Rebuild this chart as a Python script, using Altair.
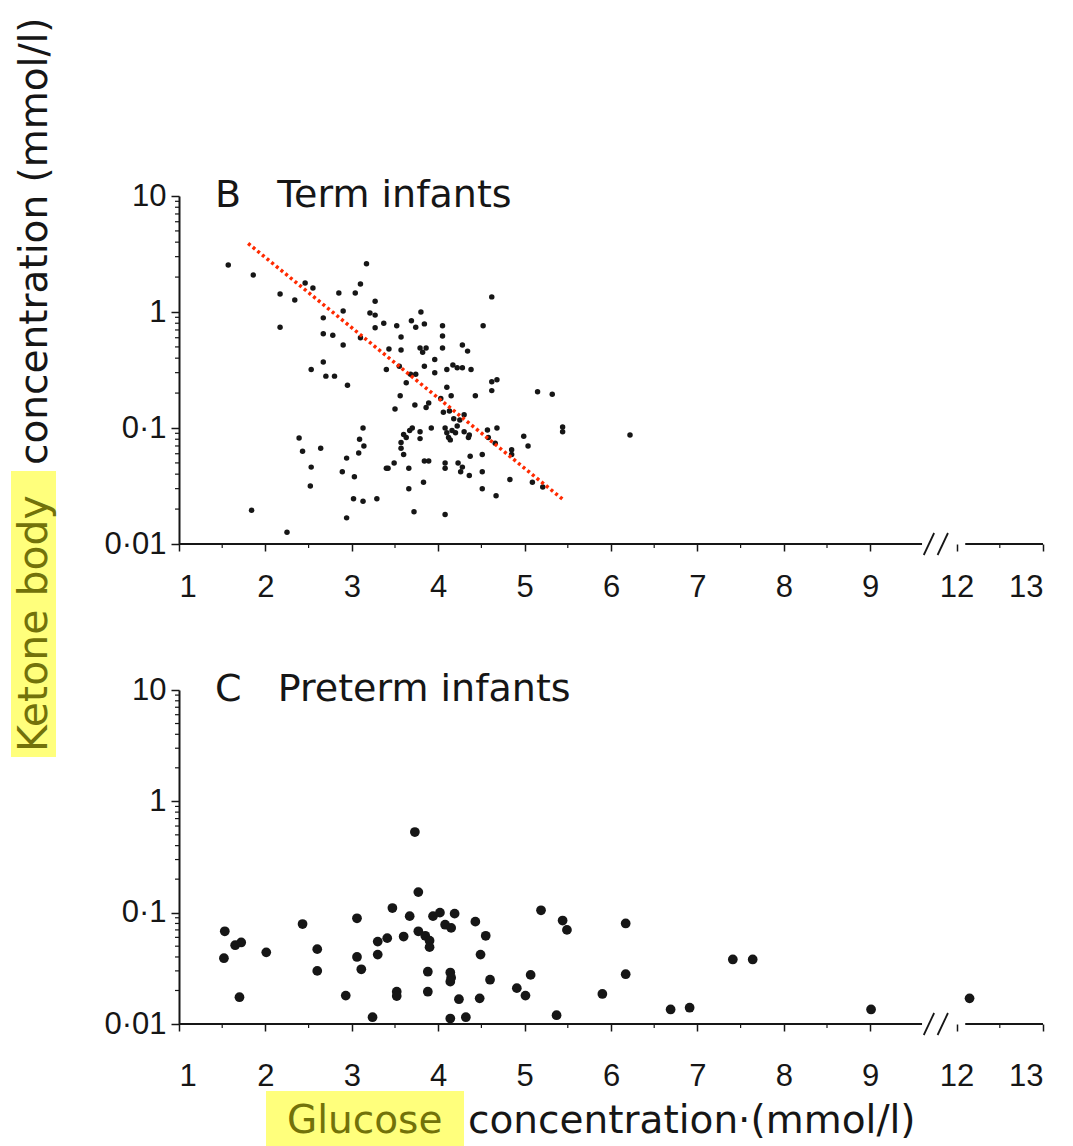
import altair as alt
import pandas as pd

# ---- B: term infants (glucose mmol/l, ketone bodies mmol/l) ----
term_glucose = [
    1.57, 1.86, 2.17, 2.34, 2.46, 2.55, 2.17, 2.67, 2.67, 2.78,
    2.90, 2.85, 3.04, 3.10, 3.17, 3.27, 3.21, 3.27, 3.27, 3.10,
    3.37, 2.90, 2.67, 2.53, 2.70, 2.80, 2.95, 3.40, 2.39, 2.43,
    2.64, 2.53, 2.52, 3.13, 3.09, 3.14, 3.08, 2.94, 2.89, 3.03,
    3.02, 3.13, 3.29, 2.94, 1.84, 2.25, 3.40, 3.80, 3.52, 3.69,
    3.74, 3.84, 4.05, 4.52, 3.57, 4.05, 3.43, 3.57, 3.79, 3.86,
    3.82, 4.05, 4.28, 4.34, 3.96, 3.84, 3.55, 3.68, 3.74, 3.96,
    4.10, 4.17, 4.22, 4.28, 4.38, 4.62, 4.68, 4.62, 5.15, 5.32,
    3.63, 3.56, 4.10, 4.15, 4.43, 4.03, 3.73, 3.86, 3.89, 3.50,
    4.06, 4.13, 4.30, 4.25, 4.22, 4.20, 4.10, 4.14, 4.12, 4.30,
    4.35, 4.36, 3.92, 3.79, 3.79, 3.67, 3.63, 3.57, 3.57, 3.60,
    4.57, 4.58, 4.68, 4.66, 4.85, 4.85, 4.99, 5.04, 5.44, 5.44,
    3.49, 3.42, 3.66, 3.84, 3.89, 4.08, 4.08, 4.23, 4.26, 4.37,
    4.51, 4.36, 4.51, 4.83, 5.09, 5.21, 3.83, 3.66, 4.51, 4.67,
    3.72, 4.08, 4.62, 6.22, 4.08, 4.16, 4.28, 3.70, 4.18, 3.60,
]
term_ketone = [
    2.54, 2.08, 1.43, 1.27, 1.78, 1.61, 0.74, 0.89, 0.65, 0.63,
    1.02, 1.46, 1.46, 1.74, 2.60, 1.24, 0.98, 0.94, 0.73, 0.60,
    0.80, 0.52, 0.37, 0.32, 0.28, 0.28, 0.234, 0.32, 0.082, 0.063,
    0.067, 0.046, 0.0316, 0.100, 0.080, 0.070, 0.061, 0.055, 0.042, 0.038,
    0.0245, 0.0234, 0.0245, 0.0168, 0.0195, 0.0126, 0.045, 1.00, 0.76, 0.84,
    0.74, 0.79, 0.76, 0.76, 0.61, 0.62, 0.48, 0.47, 0.49, 0.49,
    0.45, 0.49, 0.52, 0.46, 0.39, 0.34, 0.34, 0.29, 0.29, 0.30,
    0.32, 0.35, 0.33, 0.33, 0.32, 0.25, 0.26, 0.21, 0.205, 0.195,
    0.245, 0.19, 0.225, 0.19, 0.19, 0.18, 0.158, 0.150, 0.164, 0.146,
    0.137, 0.140, 0.130, 0.117, 0.104, 0.091, 0.091, 0.079, 0.083, 0.093,
    0.083, 0.087, 0.100, 0.093, 0.081, 0.095, 0.083, 0.075, 0.067, 0.059,
    0.096, 0.083, 0.100, 0.074, 0.065, 0.059, 0.085, 0.070, 0.102, 0.093,
    0.050, 0.045, 0.045, 0.052, 0.052, 0.050, 0.045, 0.050, 0.042, 0.057,
    0.059, 0.039, 0.042, 0.036, 0.034, 0.031, 0.034, 0.030, 0.030, 0.026,
    0.019, 0.018, 1.35, 0.087, 0.100, 0.095, 0.046, 0.100, 0.120, 0.088,
]

# regression line through the term infants
fit_glucose = [1.80, 5.45]
fit_ketone = [3.9, 0.024]

# ---- C: preterm infants ----
preterm_glucose = [
    1.53, 1.52, 1.65, 1.72, 1.70, 2.01, 2.43, 2.60, 2.60, 2.93,
    3.06, 3.06, 3.11, 3.24, 3.30, 3.30, 3.41, 3.47, 3.52, 3.52,
    3.60, 3.67, 3.73, 3.77, 3.77, 3.85, 3.90, 3.90, 3.88, 3.88,
    3.94, 4.02, 4.08, 4.15, 4.19, 4.14, 4.15, 4.14, 4.24, 4.14,
    4.32, 4.43, 4.55, 4.49, 4.48, 4.60, 4.91, 5.01, 5.07, 5.19,
    5.37, 5.44, 5.49, 5.90, 6.17, 6.17, 6.69, 6.91, 7.41, 7.64,
    9.01, 12.15,
]
preterm_ketone = [
    0.068, 0.039, 0.051, 0.054, 0.0174, 0.044, 0.079, 0.047, 0.030, 0.018,
    0.089, 0.040, 0.031, 0.0115, 0.055, 0.042, 0.059, 0.110, 0.0195, 0.0178,
    0.061, 0.093, 0.53, 0.153, 0.068, 0.062, 0.056, 0.049, 0.0295, 0.0195,
    0.093, 0.100, 0.078, 0.073, 0.098, 0.029, 0.026, 0.024, 0.0167, 0.0112,
    0.0115, 0.083, 0.062, 0.042, 0.017, 0.025, 0.021, 0.018, 0.0276, 0.105,
    0.0120, 0.085, 0.070, 0.0186, 0.080, 0.028, 0.0135, 0.014, 0.038, 0.038,
    0.0135, 0.017,
]

# axis furniture (glucose axis is broken between 9 and 12)
x_ticks = [1, 2, 3, 4, 5, 6, 7, 8, 9, 12, 13]
x_minor = [1.5, 2.5, 3.5, 4.5, 5.5, 6.5, 7.5, 8.5, 12.5]
y_ticks = [0.01, 0.1, 1, 10]
y_minor = [0.02, 0.03, 0.04, 0.05, 0.06, 0.07, 0.08, 0.09,
           0.2, 0.3, 0.4, 0.5, 0.6, 0.7, 0.8, 0.9,
           2, 3, 4, 5, 6, 7, 8, 9]
axis_start = [1, 12.1]
axis_end = [9.6, 13]
break_low = [9.62, 9.78]
break_high = [9.74, 9.90]

GAP = 2  # 10 and 11 are cut out of the glucose axis
POS = f"datum.g > 11 ? datum.g - {GAP} : datum.g"

W = 864
SANS = "Liberation Sans"
WIDE = "DejaVu Sans"
INK = "#161616"
NB = "\u00a0"  # non-breaking space keeps the wide gap after the panel letter


def panel(glu, ket, height, title, dot_size, label_pad, extra=None):
    pts = pd.DataFrame({"g": glu, "k": ket})
    xs = alt.X("pos:Q",
               scale=alt.Scale(domain=[1, 11], nice=False, zero=False),
               axis=alt.Axis(values=[v - GAP if v > 11 else v for v in x_ticks],
                             labelExpr=f"datum.value > 9 ? toString(datum.value + {GAP}) : toString(datum.value)",
                             domain=False, grid=False, title=None,
                             tickSize=7, tickWidth=1.5, tickColor=INK,
                             labelFont=SANS, labelFontSize=31, labelColor=INK,
                             labelPadding=label_pad))
    ys = alt.Y("k:Q",
               scale=alt.Scale(type="log", domain=[0.01, 10], nice=False),
               axis=alt.Axis(values=y_ticks,
                             labelExpr="replace(toString(datum.value), '.', '·')",
                             domain=True, domainColor=INK, domainWidth=2,
                             grid=False, title=None,
                             tickSize=8, tickWidth=1.5, tickColor=INK,
                             labelFont=SANS, labelFontSize=31, labelColor=INK,
                             labelPadding=5))

    dots = alt.Chart(pts).transform_calculate(pos=POS).mark_circle(
        size=dot_size, color=INK, opacity=1
    ).encode(x=xs, y=ys)

    segs = pd.DataFrame({"a": axis_start, "b": axis_end})
    baseline = alt.Chart(segs).transform_calculate(
        pa=f"datum.a > 11 ? datum.a - {GAP} : datum.a",
        pb=f"datum.b > 11 ? datum.b - {GAP} : datum.b",
    ).mark_rule(color=INK, strokeWidth=2).encode(
        x="pa:Q", x2="pb:Q", y=alt.value(height)
    )

    brk = pd.DataFrame({"lo": break_low, "hi": break_high})
    slashes = alt.Chart(brk).mark_rule(color=INK, strokeWidth=1.8).encode(
        x="lo:Q", x2="hi:Q", y=alt.value(height + 11), y2=alt.value(height - 11)
    )

    xm = pd.DataFrame({"g": x_minor})
    xminor = alt.Chart(xm).transform_calculate(pos=POS).mark_rule(
        color=INK, strokeWidth=1.2
    ).encode(x="pos:Q", y=alt.value(height), y2=alt.value(height + 4))

    ym = pd.DataFrame({"k": y_minor})
    yminor = alt.Chart(ym).mark_rule(color=INK, strokeWidth=1.2).encode(
        y="k:Q", x=alt.value(0), x2=alt.value(-4)
    )

    head = alt.Chart(pd.DataFrame({"t": [title]})).mark_text(
        align="left", baseline="middle", font=WIDE, fontSize=38, color=INK
    ).encode(text="t:N", x=alt.value(36), y=alt.value(0))

    layers = [baseline, slashes, xminor, yminor, dots, head]
    if extra:
        layers += extra
    return alt.layer(*layers).properties(width=W, height=height)


HL = "#ffff7c"
HL_INK = "#72720a"

# regression line
fit = alt.Chart(pd.DataFrame({"g": fit_glucose, "k": fit_ketone})).mark_line(
    color="#ff2a00", strokeWidth=3.5, strokeDash=[3, 3]
).encode(x="g:Q", y="k:Q")

# vertical title, split so the first two words can be highlighted
y_hl = alt.Chart(pd.DataFrame({"t": [""]})).mark_rect(color=HL).encode(
    x=alt.value(-168), x2=alt.value(-123), y=alt.value(275), y2=alt.value(561)
)
y_t1 = alt.Chart(pd.DataFrame({"t": ["Ketone body"]})).mark_text(
    align="left", baseline="alphabetic", angle=270, font=WIDE, fontSize=41, color=HL_INK
).encode(text="t:N", x=alt.value(-132), y=alt.value(556))
y_t2 = alt.Chart(pd.DataFrame({"t": ["concentration (mmol/l)"]})).mark_text(
    align="left", baseline="alphabetic", angle=270, font=WIDE, fontSize=39, color=INK
).encode(text="t:N", x=alt.value(-132), y=alt.value(269))

# horizontal title under the lower panel
x_hl = alt.Chart(pd.DataFrame({"t": [""]})).mark_rect(color=HL).encode(
    x=alt.value(87), x2=alt.value(285), y=alt.value(401), y2=alt.value(460)
)
x_t1 = alt.Chart(pd.DataFrame({"t": ["Glucose"]})).mark_text(
    align="left", baseline="alphabetic", font=WIDE, fontSize=39, color=HL_INK
).encode(text="t:N", x=alt.value(108), y=alt.value(443))
x_t2 = alt.Chart(pd.DataFrame({"t": ["concentration·(mmol/l)"]})).mark_text(
    align="left", baseline="alphabetic", font=WIDE, fontSize=39, color=INK
).encode(text="t:N", x=alt.value(289), y=alt.value(443))

top = panel(term_glucose, term_ketone, 348, f"B{NB * 3}Term infants", 30, 21,
            extra=[fit, y_hl, y_t1, y_t2])
bottom = panel(preterm_glucose, preterm_ketone, 334, f"C{NB * 3}Preterm infants", 95, 30,
               extra=[x_hl, x_t1, x_t2])

# the layout itself is W wide, so only the margins go into the padding
chart = alt.vconcat(top, bottom, spacing=146, bounds="flush").properties(
    autosize=alt.AutoSizeParams(type="none"),
    padding={"left": 179, "top": 196, "right": 1073 - 179 - W, "bottom": 1146 - 196},
    background="white",
).configure_view(stroke=None)

chart.save("out.html", embed_options={"renderer": "svg", "actions": False})
